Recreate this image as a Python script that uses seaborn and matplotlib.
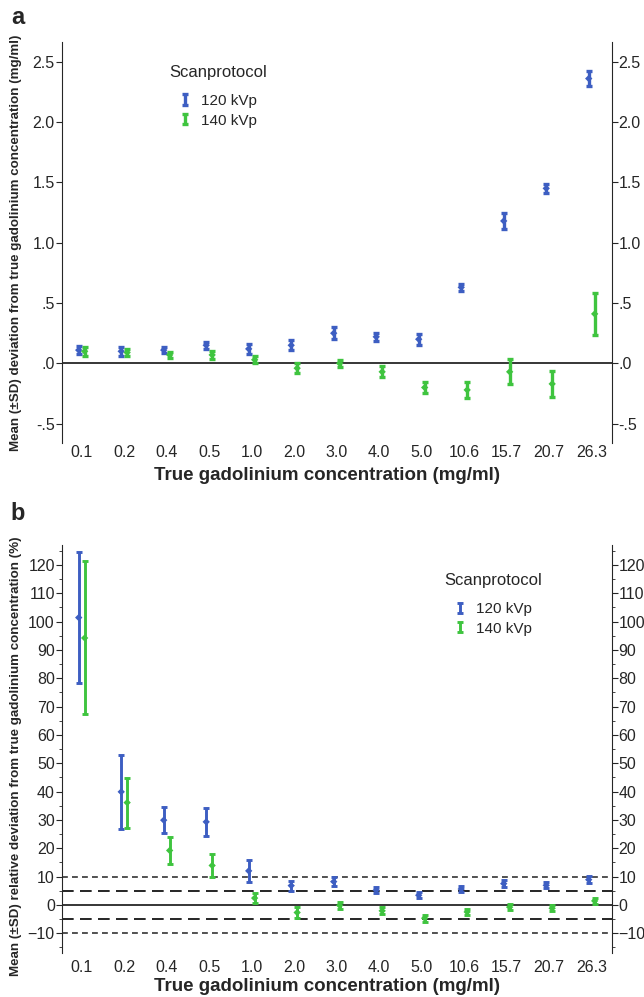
import numpy as np
import pandas as pd
import matplotlib
matplotlib.use("Agg")
import matplotlib.pyplot as plt
import seaborn as sns
from matplotlib.container import ErrorbarContainer
from matplotlib.legend_handler import HandlerErrorbar

sns.set_style("ticks")
plt.rcParams['font.family'] = ['Liberation Sans', 'DejaVu Sans']

# data
concentrations = ["0.1", "0.2", "0.4", "0.5", "1.0", "2.0", "3.0", "4.0", "5.0", "10.6", "15.7", "20.7", "26.3"]
protocols = ["120 kVp", "140 kVp"]

abs_120_mean = [0.11, 0.10, 0.11, 0.15, 0.12, 0.15, 0.25, 0.22, 0.20, 0.63, 1.18, 1.45, 2.36]
abs_120_sd = [0.03, 0.035, 0.025, 0.03, 0.04, 0.04, 0.05, 0.035, 0.045, 0.03, 0.066, 0.036, 0.062]
abs_140_mean = [0.10, 0.09, 0.07, 0.07, 0.03, -0.04, 0.00, -0.07, -0.20, -0.22, -0.07, -0.17, 0.41]
abs_140_sd = [0.035, 0.03, 0.028, 0.03, 0.03, 0.04, 0.028, 0.047, 0.047, 0.069, 0.105, 0.108, 0.174]

rel_120_mean = [101.4, 39.9, 29.9, 29.3, 12.0, 6.8, 8.2, 5.2, 3.4, 5.6, 7.5, 6.9, 8.9]
rel_120_sd = [23.2, 13.0, 4.6, 5.0, 4.0, 1.8, 1.6, 1.0, 1.1, 1.1, 1.2, 1.0, 1.2]
rel_140_mean = [94.2, 36.1, 19.2, 13.9, 2.4, -2.7, -0.2, -2.1, -4.7, -2.5, -0.8, -1.2, 1.4]
rel_140_sd = [27.0, 8.8, 4.6, 4.2, 1.9, 1.8, 1.1, 1.2, 1.2, 1.2, 1.1, 1.1, 1.2]

abs_ticks = [-0.5, 0.0, 0.5, 1.0, 1.5, 2.0, 2.5]
abs_ticklabels = ["-.5", ".0", ".5", "1.0", "1.5", "2.0", "2.5"]
rel_ticks = list(range(-10, 121, 10))

colors = {"120 kVp": "#3D5EC2", "140 kVp": "#3FC43F"}
offsets = {"120 kVp": -0.07, "140 kVp": 0.07}

TICK_FS = 11.5
LEG_MAP = {ErrorbarContainer: HandlerErrorbar(xerr_size=0.3, yerr_size=0.33)}


def make_df(m120, s120, m140, s140):
    rows = []
    for prot, means, sds in [("120 kVp", m120, s120), ("140 kVp", m140, s140)]:
        for i, c in enumerate(concentrations):
            rows.append({"conc": c, "pos": i + offsets[prot], "protocol": prot,
                         "mean": means[i], "sd": sds[i]})
    return pd.DataFrame(rows)


def draw_panel(ax, df, elw):
    handles = []
    for prot in protocols:
        d = df[df["protocol"] == prot]
        eb = ax.errorbar(d["pos"], d["mean"], yerr=d["sd"], fmt="none",
                         ecolor=colors[prot], elinewidth=elw, capsize=2,
                         capthick=elw, zorder=3)
        handles.append(eb)
    sns.scatterplot(data=df, x="pos", y="mean", hue="protocol", palette=colors,
                    marker="D", s=14, linewidth=0, legend=False, ax=ax, zorder=4)
    ax.axhline(0, color="black", lw=1.1, zorder=2)
    ax.set_xlim(-0.47, 12.47)
    ax.set_xticks(range(len(concentrations)))
    ax.set_xticklabels(concentrations)
    ax.tick_params(axis="x", length=0, labelsize=TICK_FS)
    ax.tick_params(axis="y", which="both", direction="out", right=True,
                   labelright=True, labelsize=TICK_FS)
    ax.tick_params(axis="y", which="major", length=4, pad=1)
    ax.tick_params(axis="y", which="minor", length=2.5)
    sns.despine(ax=ax, top=True, bottom=True, left=False, right=False)
    ax.set_xlabel("True gadolinium concentration (mg/ml)", fontsize=13.5, fontweight="bold")
    ax.xaxis.set_label_coords(0.482, -0.06)
    return handles


def add_legend(ax, handles, anchor):
    leg = ax.legend(handles, protocols, title="Scanprotocol", frameon=False,
                    loc="upper left", bbox_to_anchor=anchor,
                    fontsize=11, title_fontsize=12, handlelength=0.8,
                    handletextpad=0.6, labelspacing=0.38, handler_map=LEG_MAP)
    # wider gap between the title and the entries
    leg._legend_box.sep = 10
    return leg


fig = plt.figure(figsize=(6.44, 9.97), dpi=100)
ax_a = fig.add_axes([0.0958, 0.5554, 0.854, 0.4025])
ax_b = fig.add_axes([0.0958, 0.0441, 0.854, 0.4092])

# panel a: absolute deviation
df_a = make_df(abs_120_mean, abs_120_sd, abs_140_mean, abs_140_sd)
h_a = draw_panel(ax_a, df_a, 2.4)
ax_a.set_ylim(-0.662, 2.663)
ax_a.set_yticks(abs_ticks)
ax_a.set_yticklabels(abs_ticklabels)
ax_a.tick_params(axis="x", pad=1)
ax_a.set_ylabel("Mean (\u00b1SD) deviation from true gadolinium concentration (mg/ml)",
                fontsize=9.6, fontweight="bold")
ax_a.yaxis.set_label_coords(-0.072, 0.5)
add_legend(ax_a, h_a, (0.17, 0.977))

# panel b: relative deviation
df_b = make_df(rel_120_mean, rel_120_sd, rel_140_mean, rel_140_sd)
h_b = draw_panel(ax_b, df_b, 2.1)
ax_b.set_ylim(-17, 127)
ax_b.set_yticks(rel_ticks)
ax_b.set_yticks(list(range(-15, 126, 10)), minor=True)
ax_b.tick_params(axis="x", pad=5)
for v in [10, -10]:
    ax_b.axhline(v, color="#333333", lw=1.2, dashes=(3.5, 2.5), zorder=1)
for v in [5, -5]:
    ax_b.axhline(v, color="black", lw=1.2, dashes=(7, 3.8), zorder=1)
ax_b.set_ylabel("Mean (\u00b1SD) relative deviation from true gadolinium concentration (%)",
                fontsize=9.6, fontweight="bold")
ax_b.yaxis.set_label_coords(-0.072, 0.483)
add_legend(ax_b, h_b, (0.67, 0.965))

fig.text(0.017, 0.982, "a", fontsize=17, fontweight="bold", va="center")
fig.text(0.017, 0.485, "b", fontsize=17, fontweight="bold", va="center")

fig.savefig("out.png", dpi=100)
